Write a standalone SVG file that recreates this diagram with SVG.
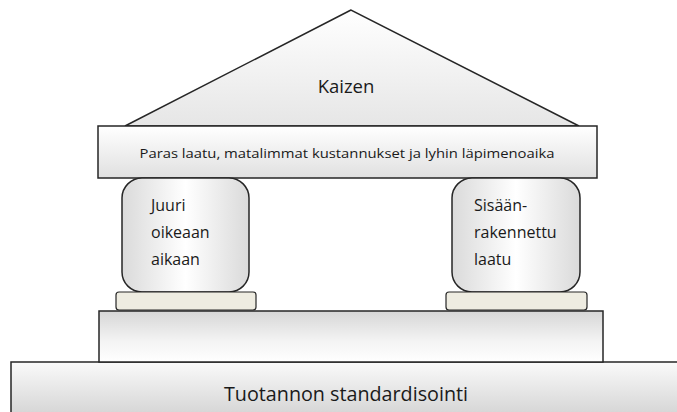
<svg xmlns="http://www.w3.org/2000/svg" width="677" height="412" viewBox="0 0 677 412">
<defs>
<linearGradient id="gV" x1="0" y1="0" x2="0" y2="1"><stop offset="0" stop-color="#ffffff"/><stop offset="1" stop-color="#e0e0e0"/></linearGradient>
<linearGradient id="gRoof" x1="0" y1="0" x2="0" y2="1"><stop offset="0" stop-color="#ffffff"/><stop offset="1" stop-color="#e6e6e6"/></linearGradient>
<linearGradient id="gPlat" x1="0" y1="0" x2="0" y2="1"><stop offset="0" stop-color="#d6d6d6"/><stop offset="0.6" stop-color="#f4f4f4"/><stop offset="1" stop-color="#ffffff"/></linearGradient>
<linearGradient id="gSlab" x1="0" y1="0" x2="0" y2="1"><stop offset="0" stop-color="#fafafa"/><stop offset="1" stop-color="#d0d0d0"/></linearGradient>
<linearGradient id="gPil" x1="0" y1="0" x2="1" y2="0"><stop offset="0" stop-color="#dadada"/><stop offset="0.5" stop-color="#ffffff"/><stop offset="1" stop-color="#dadada"/></linearGradient>
</defs>
<style>
.s{stroke:#262626;stroke-width:1.5}
.t{font-family:"Open Sans","Liberation Sans",sans-serif;fill:#1a1a1a}
.base{fill:#eeece1;stroke:#262626;stroke-width:1.2}
</style>
<g id="slab"><rect x="11" y="362" width="680" height="60" fill="url(#gSlab)" class="s"/>
<text class="t" x="346" y="401" font-size="20" text-anchor="middle" textLength="244" lengthAdjust="spacingAndGlyphs">Tuotannon standardisointi</text></g>
<g id="platform"><rect x="99" y="311" width="504" height="51" fill="url(#gPlat)" class="s"/></g>
<g id="roof"><polygon points="351,10 125,126 579,126" fill="url(#gRoof)" class="s"/>
<text class="t" x="346" y="93" font-size="18.5" text-anchor="middle">Kaizen</text></g>
<g id="beam"><rect x="98" y="126" width="499" height="52" fill="url(#gV)" class="s"/>
<text class="t" x="347" y="158" font-size="13.5" text-anchor="middle" textLength="415" lengthAdjust="spacingAndGlyphs">Paras laatu, matalimmat kustannukset ja lyhin läpimenoaika</text></g>
<g id="pillarL"><rect x="122" y="178" width="127" height="114" rx="20" ry="20" fill="url(#gPil)" class="s"/>
<rect x="116" y="292" width="140" height="18" rx="3" class="base"/>
<text class="t" font-size="16"><tspan x="151" y="211">Juuri</tspan><tspan x="151" y="238">oikeaan</tspan><tspan x="151" y="265">aikaan</tspan></text></g>
<g id="pillarR"><rect x="452" y="178" width="128" height="114" rx="20" ry="20" fill="url(#gPil)" class="s"/>
<rect x="446" y="292" width="141" height="18" rx="3" class="base"/>
<text class="t" font-size="16"><tspan x="474" y="211">Sisään-</tspan><tspan x="474" y="238">rakennettu</tspan><tspan x="474" y="265">laatu</tspan></text></g>
<g id="connectors"/>
</svg>
